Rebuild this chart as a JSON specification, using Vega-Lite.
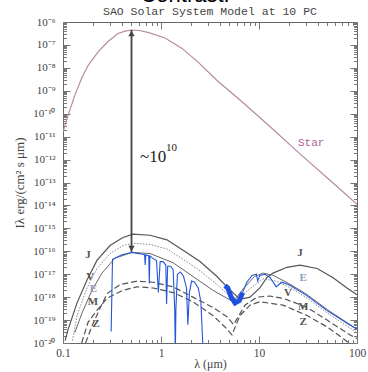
{
  "$schema": "https://vega.github.io/schema/vega-lite/v6.json",
  "width": 294,
  "height": 321,
  "autosize": {"type": "none"},
  "padding": {"left": 63, "top": 22, "right": 11, "bottom": 29},
  "background": "white",
  "config": {
    "view": {"stroke": "#666", "strokeWidth": 1},
    "axis": {"domain": false, "grid": false, "tickColor": "#777", "tickWidth": 1}
  },
  "datasets": {
    "curves": [
      {"s": "Star", "lam": 0.1, "I": 1.58e-11},
      {"s": "Star", "lam": 0.113, "I": 8.91e-11},
      {"s": "Star", "lam": 0.132, "I": 6.31e-10},
      {"s": "Star", "lam": 0.155, "I": 3.55e-9},
      {"s": "Star", "lam": 0.18, "I": 1.26e-8},
      {"s": "Star", "lam": 0.228, "I": 5.01e-8},
      {"s": "Star", "lam": 0.288, "I": 1.41e-7},
      {"s": "Star", "lam": 0.364, "I": 3.16e-7},
      {"s": "Star", "lam": 0.43, "I": 3.98e-7},
      {"s": "Star", "lam": 0.506, "I": 4.47e-7},
      {"s": "Star", "lam": 0.6, "I": 4.27e-7},
      {"s": "Star", "lam": 0.736, "I": 3.55e-7},
      {"s": "Star", "lam": 1.1, "I": 2.0e-7},
      {"s": "Star", "lam": 1.64, "I": 7.08e-8},
      {"s": "Star", "lam": 2.39, "I": 1.78e-8},
      {"s": "Star", "lam": 3.73, "I": 2.82e-9},
      {"s": "Star", "lam": 6.4, "I": 3.98e-10},
      {"s": "Star", "lam": 12.1, "I": 3.55e-11},
      {"s": "Star", "lam": 26.2, "I": 1.78e-12},
      {"s": "Star", "lam": 53, "I": 1.26e-13},
      {"s": "Star", "lam": 100, "I": 1.12e-14},

      {"s": "J", "lam": 0.105, "I": 1.26e-20},
      {"s": "J", "lam": 0.112, "I": 3.55e-20},
      {"s": "J", "lam": 0.139, "I": 5.62e-19},
      {"s": "J", "lam": 0.176, "I": 5.62e-18},
      {"s": "J", "lam": 0.222, "I": 3.98e-17},
      {"s": "J", "lam": 0.302, "I": 1.78e-16},
      {"s": "J", "lam": 0.409, "I": 3.98e-16},
      {"s": "J", "lam": 0.518, "I": 5.62e-16},
      {"s": "J", "lam": 0.773, "I": 5.01e-16},
      {"s": "J", "lam": 1.15, "I": 3.16e-16},
      {"s": "J", "lam": 1.68, "I": 1.12e-16},
      {"s": "J", "lam": 2.5, "I": 3.55e-17},
      {"s": "J", "lam": 3.73, "I": 7.94e-18},
      {"s": "J", "lam": 4.71, "I": 2.82e-18},
      {"s": "J", "lam": 6.4, "I": 7.94e-19},
      {"s": "J", "lam": 8.09, "I": 1.0e-18},
      {"s": "J", "lam": 10.2, "I": 2.51e-18},
      {"s": "J", "lam": 12.0, "I": 7.08e-18},
      {"s": "J", "lam": 13.9, "I": 1.12e-17},
      {"s": "J", "lam": 19.3, "I": 2.0e-17},
      {"s": "J", "lam": 26.2, "I": 2.51e-17},
      {"s": "J", "lam": 39.2, "I": 1.78e-17},
      {"s": "J", "lam": 57, "I": 7.08e-18},
      {"s": "J", "lam": 79, "I": 2.51e-18},
      {"s": "J", "lam": 100, "I": 1.26e-18},

      {"s": "V", "lam": 0.125, "I": 1.26e-20},
      {"s": "V", "lam": 0.139, "I": 1.58e-19},
      {"s": "V", "lam": 0.176, "I": 2.51e-18},
      {"s": "V", "lam": 0.222, "I": 1.78e-17},
      {"s": "V", "lam": 0.302, "I": 7.94e-17},
      {"s": "V", "lam": 0.409, "I": 1.78e-16},
      {"s": "V", "lam": 0.518, "I": 2.24e-16},
      {"s": "V", "lam": 0.773, "I": 2.0e-16},
      {"s": "V", "lam": 1.15, "I": 1.26e-16},
      {"s": "V", "lam": 1.68, "I": 4.47e-17},
      {"s": "V", "lam": 2.5, "I": 1.41e-17},
      {"s": "V", "lam": 3.73, "I": 3.55e-18},
      {"s": "V", "lam": 4.71, "I": 1.41e-18},
      {"s": "V", "lam": 6.0, "I": 7.94e-19},
      {"s": "V", "lam": 8.0, "I": 2.24e-18},
      {"s": "V", "lam": 11, "I": 6.31e-18},
      {"s": "V", "lam": 15, "I": 5.01e-18},
      {"s": "V", "lam": 20, "I": 2.82e-18},
      {"s": "V", "lam": 30, "I": 1.0e-18},
      {"s": "V", "lam": 50, "I": 2.0e-19},
      {"s": "V", "lam": 100, "I": 2.82e-20},

      {"s": "E", "lam": 0.132, "I": 2.82e-20},
      {"s": "E", "lam": 0.156, "I": 2.0e-19},
      {"s": "E", "lam": 0.198, "I": 2.0e-18},
      {"s": "E", "lam": 0.25, "I": 1.12e-17},
      {"s": "E", "lam": 0.339, "I": 5.01e-17},
      {"s": "E", "lam": 0.506, "I": 8.91e-17},
      {"s": "E", "lam": 0.773, "I": 8.0e-17},
      {"s": "E", "lam": 1.33, "I": 3.16e-17},
      {"s": "E", "lam": 2.12, "I": 7.94e-18},
      {"s": "E", "lam": 3.38, "I": 2.0e-18},
      {"s": "E", "lam": 4.71, "I": 8.91e-19},
      {"s": "E", "lam": 5.5, "I": 6.31e-19},
      {"s": "E", "lam": 7.0, "I": 2.51e-18},
      {"s": "E", "lam": 9.0, "I": 7.94e-18},
      {"s": "E", "lam": 11, "I": 1.12e-17},
      {"s": "E", "lam": 14, "I": 8.91e-18},
      {"s": "E", "lam": 20, "I": 3.98e-18},
      {"s": "E", "lam": 30, "I": 1.41e-18},
      {"s": "E", "lam": 50, "I": 2.82e-19},
      {"s": "E", "lam": 100, "I": 3.98e-20},

      {"s": "M", "lam": 0.17, "I": 1.0e-20},
      {"s": "M", "lam": 0.2, "I": 6.31e-20},
      {"s": "M", "lam": 0.238, "I": 3.16e-19},
      {"s": "M", "lam": 0.281, "I": 1.41e-18},
      {"s": "M", "lam": 0.382, "I": 3.55e-18},
      {"s": "M", "lam": 0.57, "I": 5.01e-18},
      {"s": "M", "lam": 0.83, "I": 4.47e-18},
      {"s": "M", "lam": 1.33, "I": 2.82e-18},
      {"s": "M", "lam": 2.12, "I": 1.0e-18},
      {"s": "M", "lam": 3.38, "I": 3.55e-19},
      {"s": "M", "lam": 4.71, "I": 1.41e-19},
      {"s": "M", "lam": 5.5, "I": 6.31e-20},
      {"s": "M", "lam": 7.2, "I": 4.47e-19},
      {"s": "M", "lam": 9.5, "I": 1.0e-18},
      {"s": "M", "lam": 12.9, "I": 1.12e-18},
      {"s": "M", "lam": 17.6, "I": 8.91e-19},
      {"s": "M", "lam": 31, "I": 3.55e-19},
      {"s": "M", "lam": 49.5, "I": 1.0e-19},
      {"s": "M", "lam": 85, "I": 2.24e-20},
      {"s": "M", "lam": 100, "I": 1.58e-20},

      {"s": "Z", "lam": 0.155, "I": 1.0e-20},
      {"s": "Z", "lam": 0.18, "I": 7.94e-20},
      {"s": "Z", "lam": 0.22, "I": 2.51e-19},
      {"s": "Z", "lam": 0.281, "I": 8.91e-19},
      {"s": "Z", "lam": 0.409, "I": 2.0e-18},
      {"s": "Z", "lam": 0.57, "I": 2.82e-18},
      {"s": "Z", "lam": 0.83, "I": 2.51e-18},
      {"s": "Z", "lam": 1.33, "I": 1.58e-18},
      {"s": "Z", "lam": 2.12, "I": 6.31e-19},
      {"s": "Z", "lam": 3.38, "I": 1.58e-19},
      {"s": "Z", "lam": 4.5, "I": 5.01e-20},
      {"s": "Z", "lam": 5.3, "I": 2.24e-20},
      {"s": "Z", "lam": 6.4, "I": 1.58e-19},
      {"s": "Z", "lam": 8.1, "I": 4.47e-19},
      {"s": "Z", "lam": 10.2, "I": 6.31e-19},
      {"s": "Z", "lam": 17.6, "I": 4.47e-19},
      {"s": "Z", "lam": 31, "I": 1.58e-19},
      {"s": "Z", "lam": 49.5, "I": 5.01e-20},
      {"s": "Z", "lam": 72, "I": 1.58e-20},
      {"s": "Z", "lam": 85, "I": 8.91e-21}
    ],
    "blue": [
      {"g": "vis", "i": 1, "lam": 0.31, "I": 3.16e-20},
      {"g": "vis", "i": 2, "lam": 0.32, "I": 4.47e-17},
      {"g": "vis", "i": 3, "lam": 0.4, "I": 7.08e-17},
      {"g": "vis", "i": 4, "lam": 0.5, "I": 8.91e-17},
      {"g": "vis", "i": 5, "lam": 0.6, "I": 7.94e-17},
      {"g": "vis", "i": 6, "lam": 0.68, "I": 7.08e-17},
      {"g": "vis", "i": 7, "lam": 0.69, "I": 2.51e-17},
      {"g": "vis", "i": 8, "lam": 0.7, "I": 7.08e-17},
      {"g": "vis", "i": 9, "lam": 0.75, "I": 6.31e-17},
      {"g": "vis", "i": 10, "lam": 0.76, "I": 3.98e-18},
      {"g": "vis", "i": 11, "lam": 0.77, "I": 6.31e-17},
      {"g": "vis", "i": 12, "lam": 0.82, "I": 5.01e-17},
      {"g": "vis", "i": 13, "lam": 0.9, "I": 3.98e-17},
      {"g": "vis", "i": 14, "lam": 0.94, "I": 1.58e-18},
      {"g": "vis", "i": 15, "lam": 0.98, "I": 3.55e-17},
      {"g": "vis", "i": 16, "lam": 1.05, "I": 3.55e-17},
      {"g": "vis", "i": 17, "lam": 1.12, "I": 2.51e-17},
      {"g": "vis", "i": 18, "lam": 1.14, "I": 5.01e-19},
      {"g": "vis", "i": 19, "lam": 1.17, "I": 2.24e-17},
      {"g": "vis", "i": 20, "lam": 1.25, "I": 2.24e-17},
      {"g": "vis", "i": 21, "lam": 1.33, "I": 1.58e-17},
      {"g": "vis", "i": 22, "lam": 1.38, "I": 3.16e-19},
      {"g": "vis", "i": 23, "lam": 1.4, "I": 3.16e-21},
      {"g": "vis", "i": 24, "lam": 1.42, "I": 3.16e-19},
      {"g": "vis", "i": 25, "lam": 1.47, "I": 1.0e-17},
      {"g": "vis", "i": 26, "lam": 1.58, "I": 1.26e-17},
      {"g": "vis", "i": 27, "lam": 1.7, "I": 7.94e-18},
      {"g": "vis", "i": 28, "lam": 1.82, "I": 2.51e-18},
      {"g": "vis", "i": 29, "lam": 1.88, "I": 6.31e-20},
      {"g": "vis", "i": 30, "lam": 1.95, "I": 1.58e-18},
      {"g": "vis", "i": 31, "lam": 2.05, "I": 5.01e-18},
      {"g": "vis", "i": 32, "lam": 2.2, "I": 4.47e-18},
      {"g": "vis", "i": 33, "lam": 2.4, "I": 2.51e-18},
      {"g": "vis", "i": 34, "lam": 2.55, "I": 6.31e-19},
      {"g": "vis", "i": 35, "lam": 2.7, "I": 3.16e-21},

      {"g": "ir", "i": 1, "lam": 4.5, "I": 3.16e-18},
      {"g": "ir", "i": 2, "lam": 4.8, "I": 2.51e-18},
      {"g": "ir", "i": 3, "lam": 5.2, "I": 1.0e-18},
      {"g": "ir", "i": 4, "lam": 5.7, "I": 5.62e-19},
      {"g": "ir", "i": 5, "lam": 6.3, "I": 7.08e-19},
      {"g": "ir", "i": 6, "lam": 6.8, "I": 1.58e-18},
      {"g": "ir", "i": 7, "lam": 7.5, "I": 4.47e-18},
      {"g": "ir", "i": 8, "lam": 8.5, "I": 8.91e-18},
      {"g": "ir", "i": 9, "lam": 9.4, "I": 1.0e-17},
      {"g": "ir", "i": 10, "lam": 9.7, "I": 5.01e-18},
      {"g": "ir", "i": 11, "lam": 10.2, "I": 8.91e-18},
      {"g": "ir", "i": 12, "lam": 11.5, "I": 1.0e-17},
      {"g": "ir", "i": 13, "lam": 13, "I": 7.08e-18},
      {"g": "ir", "i": 14, "lam": 15, "I": 2.82e-18},
      {"g": "ir", "i": 15, "lam": 17, "I": 4.47e-18},
      {"g": "ir", "i": 16, "lam": 20, "I": 3.55e-18},
      {"g": "ir", "i": 17, "lam": 30, "I": 1.26e-18},
      {"g": "ir", "i": 18, "lam": 50, "I": 2.51e-19},
      {"g": "ir", "i": 19, "lam": 80, "I": 7.08e-20},
      {"g": "ir", "i": 20, "lam": 100, "I": 3.98e-20},

      {"g": "blob", "i": 1, "lam": 4.5, "I": 3.16e-18},
      {"g": "blob", "i": 2, "lam": 4.8, "I": 2.51e-18},
      {"g": "blob", "i": 3, "lam": 5.2, "I": 1.0e-18},
      {"g": "blob", "i": 4, "lam": 5.7, "I": 5.62e-19},
      {"g": "blob", "i": 5, "lam": 6.3, "I": 7.08e-19},
      {"g": "blob", "i": 6, "lam": 6.8, "I": 1.58e-18}
    ],
    "planetLabels": [
      {"t": "J", "lam": 0.18, "I": 6.9e-17},
      {"t": "V", "lam": 0.19, "I": 7.4e-18},
      {"t": "E", "lam": 0.204, "I": 2.2e-18},
      {"t": "M", "lam": 0.202, "I": 6.2e-19},
      {"t": "Z", "lam": 0.217, "I": 6.8e-20},
      {"t": "J", "lam": 26.2, "I": 8.5e-17},
      {"t": "E", "lam": 28.2, "I": 6.9e-18},
      {"t": "V", "lam": 19.8, "I": 1.5e-18},
      {"t": "M", "lam": 28.2, "I": 3.7e-19},
      {"t": "Z", "lam": 28.2, "I": 8.3e-20}
    ],
    "arrow": [{"lam": 0.5, "I": 9.3e-17, "I2": 4.47e-7}],
    "heads": [
      {"dir": "up", "lam": 0.5, "I": 3.16e-7},
      {"dir": "down", "lam": 0.5, "I": 1.32e-16}
    ]
  },
  "resolve": {"axis": {"x": "independent", "y": "independent"}},
  "layer": [
    {
      "data": {"name": "curves"},
      "transform": [{"filter": "datum.s == 'Star'"}],
      "mark": {"type": "line", "color": "#b58ba0", "strokeWidth": 1.2, "clip": true},
      "encoding": {
        "x": {
          "field": "lam", "type": "quantitative",
          "scale": {"type": "log", "domain": [0.1, 100], "nice": false},
          "axis": {
            "orient": "bottom", "values": [0.1, 1, 10, 100],
            "labelExpr": "datum.value < 0.5 ? '0.1' : format(datum.value, 'd')",
            "tickSize": -7, "labelPadding": 11, "labelFlush": false, "labelOverlap": false,
            "labelFont": "Liberation Serif", "labelFontSize": 11.5, "labelColor": "#444",
            "title": "λ (μm)", "titleFont": "Liberation Serif", "titleFontSize": 12,
            "titleFontWeight": "normal", "titleColor": "#444", "titlePadding": 0
          }
        },
        "y": {
          "field": "I", "type": "quantitative",
          "scale": {"type": "log", "domain": [1e-20, 1e-6], "nice": false},
          "axis": {
            "orient": "left",
            "values": [1e-20, 1e-19, 1e-18, 1e-17, 1e-16, 1e-15, 1e-14, 1e-13, 1e-12, 1e-11, 1e-10, 1e-9, 1e-8, 1e-7, 1e-6],
            "labelExpr": "'10⁻' + (floor(round(-log(datum.value)/LN10)/10) > 0 ? substring('⁰¹²³⁴⁵⁶⁷⁸⁹', floor(round(-log(datum.value)/LN10)/10), floor(round(-log(datum.value)/LN10)/10) + 1) : '') + substring('⁰¹²³⁴⁵⁶⁷⁸⁹', round(-log(datum.value)/LN10) % 10, round(-log(datum.value)/LN10) % 10 + 1)",
            "tickSize": -7, "labelPadding": 15, "labelOverlap": false,
            "labelFont": "Liberation Serif", "labelFontSize": 11, "labelColor": "#444",
            "title": "Iλ erg/(cm² s μm)", "titleFont": "Liberation Serif", "titleFontSize": 13,
            "titleFontWeight": "normal", "titleColor": "#444", "titlePadding": 6
          }
        }
      }
    },
    {
      "data": {"name": "curves"},
      "transform": [{"filter": "datum.s == 'J'"}],
      "mark": {"type": "line", "color": "#555", "strokeWidth": 1.2, "clip": true},
      "encoding": {
        "x": {
          "field": "lam", "type": "quantitative",
          "scale": {"type": "log", "domain": [0.1, 100], "nice": false},
          "axis": {
            "orient": "bottom",
            "values": [0.2, 0.3, 0.4, 0.5, 0.6, 0.7, 0.8, 0.9, 2, 3, 4, 5, 6, 7, 8, 9, 20, 30, 40, 50, 60, 70, 80, 90],
            "labels": false, "tickSize": -3.5, "title": null
          }
        },
        "y": {
          "field": "I", "type": "quantitative",
          "scale": {"type": "log", "domain": [1e-20, 1e-6], "nice": false},
          "axis": {
            "orient": "left",
            "values": [2e-20,3e-20,4e-20,5e-20,6e-20,7e-20,8e-20,9e-20,2e-19,3e-19,4e-19,5e-19,6e-19,7e-19,8e-19,9e-19,2e-18,3e-18,4e-18,5e-18,6e-18,7e-18,8e-18,9e-18,2e-17,3e-17,4e-17,5e-17,6e-17,7e-17,8e-17,9e-17,2e-16,3e-16,4e-16,5e-16,6e-16,7e-16,8e-16,9e-16,2e-15,3e-15,4e-15,5e-15,6e-15,7e-15,8e-15,9e-15,2e-14,3e-14,4e-14,5e-14,6e-14,7e-14,8e-14,9e-14,2e-13,3e-13,4e-13,5e-13,6e-13,7e-13,8e-13,9e-13,2e-12,3e-12,4e-12,5e-12,6e-12,7e-12,8e-12,9e-12,2e-11,3e-11,4e-11,5e-11,6e-11,7e-11,8e-11,9e-11,2e-10,3e-10,4e-10,5e-10,6e-10,7e-10,8e-10,9e-10,2e-9,3e-9,4e-9,5e-9,6e-9,7e-9,8e-9,9e-9,2e-8,3e-8,4e-8,5e-8,6e-8,7e-8,8e-8,9e-8,2e-7,3e-7,4e-7,5e-7,6e-7,7e-7,8e-7,9e-7],
            "labels": false, "tickSize": -3.5, "title": null
          }
        }
      }
    },
    {
      "data": {"name": "curves"},
      "transform": [{"filter": "datum.s == 'V'"}],
      "mark": {"type": "line", "color": "#888", "strokeWidth": 1, "strokeDash": [1.5, 1.5], "clip": true},
      "encoding": {
        "x": {
          "field": "lam", "type": "quantitative",
          "scale": {"type": "log", "domain": [0.1, 100], "nice": false},
          "axis": {"orient": "top", "values": [0.1, 1, 10, 100], "labels": false, "tickSize": -7, "title": null}
        },
        "y": {
          "field": "I", "type": "quantitative",
          "scale": {"type": "log", "domain": [1e-20, 1e-6], "nice": false},
          "axis": {
            "orient": "right",
            "values": [1e-20, 1e-19, 1e-18, 1e-17, 1e-16, 1e-15, 1e-14, 1e-13, 1e-12, 1e-11, 1e-10, 1e-9, 1e-8, 1e-7, 1e-6],
            "labels": false, "tickSize": -7, "title": null
          }
        }
      }
    },
    {
      "data": {"name": "curves"},
      "transform": [{"filter": "datum.s == 'E'"}],
      "mark": {"type": "line", "color": "#666", "strokeWidth": 1, "clip": true},
      "encoding": {
        "x": {
          "field": "lam", "type": "quantitative",
          "scale": {"type": "log", "domain": [0.1, 100], "nice": false},
          "axis": {
            "orient": "top",
            "values": [0.2, 0.3, 0.4, 0.5, 0.6, 0.7, 0.8, 0.9, 2, 3, 4, 5, 6, 7, 8, 9, 20, 30, 40, 50, 60, 70, 80, 90],
            "labels": false, "tickSize": -3.5, "title": null
          }
        },
        "y": {
          "field": "I", "type": "quantitative",
          "scale": {"type": "log", "domain": [1e-20, 1e-6], "nice": false},
          "axis": {
            "orient": "right",
            "values": [2e-20,3e-20,4e-20,5e-20,6e-20,7e-20,8e-20,9e-20,2e-19,3e-19,4e-19,5e-19,6e-19,7e-19,8e-19,9e-19,2e-18,3e-18,4e-18,5e-18,6e-18,7e-18,8e-18,9e-18,2e-17,3e-17,4e-17,5e-17,6e-17,7e-17,8e-17,9e-17,2e-16,3e-16,4e-16,5e-16,6e-16,7e-16,8e-16,9e-16,2e-15,3e-15,4e-15,5e-15,6e-15,7e-15,8e-15,9e-15,2e-14,3e-14,4e-14,5e-14,6e-14,7e-14,8e-14,9e-14,2e-13,3e-13,4e-13,5e-13,6e-13,7e-13,8e-13,9e-13,2e-12,3e-12,4e-12,5e-12,6e-12,7e-12,8e-12,9e-12,2e-11,3e-11,4e-11,5e-11,6e-11,7e-11,8e-11,9e-11,2e-10,3e-10,4e-10,5e-10,6e-10,7e-10,8e-10,9e-10,2e-9,3e-9,4e-9,5e-9,6e-9,7e-9,8e-9,9e-9,2e-8,3e-8,4e-8,5e-8,6e-8,7e-8,8e-8,9e-8,2e-7,3e-7,4e-7,5e-7,6e-7,7e-7,8e-7,9e-7],
            "labels": false, "tickSize": -3.5, "title": null
          }
        }
      }
    },
    {
      "data": {"name": "curves"},
      "transform": [{"filter": "datum.s == 'M' || datum.s == 'Z'"}],
      "mark": {"type": "line", "color": "#555", "strokeWidth": 1.2, "strokeDash": [6, 3], "clip": true},
      "encoding": {
        "x": {"field": "lam", "type": "quantitative", "scale": {"type": "log", "domain": [0.1, 100], "nice": false}, "axis": null},
        "y": {"field": "I", "type": "quantitative", "scale": {"type": "log", "domain": [1e-20, 1e-6], "nice": false}, "axis": null},
        "detail": {"field": "s"}
      }
    },
    {
      "data": {"name": "blue"},
      "transform": [{"filter": "datum.g != 'blob'"}],
      "mark": {"type": "line", "color": "#2456d8", "strokeWidth": 1.1, "clip": true},
      "encoding": {
        "x": {"field": "lam", "type": "quantitative", "scale": {"type": "log", "domain": [0.1, 100], "nice": false}, "axis": null},
        "y": {"field": "I", "type": "quantitative", "scale": {"type": "log", "domain": [1e-20, 1e-6], "nice": false}, "axis": null},
        "detail": {"field": "g"},
        "order": {"field": "i", "type": "quantitative"}
      }
    },
    {
      "data": {"name": "blue"},
      "transform": [{"filter": "datum.g == 'blob'"}],
      "mark": {"type": "line", "color": "#1f4fe0", "strokeWidth": 5, "clip": true},
      "encoding": {
        "x": {"field": "lam", "type": "quantitative", "scale": {"type": "log", "domain": [0.1, 100], "nice": false}, "axis": null},
        "y": {"field": "I", "type": "quantitative", "scale": {"type": "log", "domain": [1e-20, 1e-6], "nice": false}, "axis": null},
        "order": {"field": "i", "type": "quantitative"}
      }
    },
    {
      "data": {"name": "arrow"},
      "mark": {"type": "rule", "color": "#444", "strokeWidth": 1.8},
      "encoding": {
        "x": {"field": "lam", "type": "quantitative", "scale": {"type": "log", "domain": [0.1, 100], "nice": false}, "axis": null},
        "y": {"field": "I", "type": "quantitative", "scale": {"type": "log", "domain": [1e-20, 1e-6], "nice": false}, "axis": null},
        "y2": {"field": "I2"}
      }
    },
    {
      "data": {"name": "heads"},
      "mark": {"type": "point", "filled": true, "color": "#444", "size": 40, "opacity": 1},
      "encoding": {
        "x": {"field": "lam", "type": "quantitative", "scale": {"type": "log", "domain": [0.1, 100], "nice": false}, "axis": null},
        "y": {"field": "I", "type": "quantitative", "scale": {"type": "log", "domain": [1e-20, 1e-6], "nice": false}, "axis": null},
        "shape": {"field": "dir", "type": "nominal", "scale": {"domain": ["up", "down"], "range": ["triangle-up", "triangle-down"]}, "legend": null}
      }
    },
    {
      "data": {"name": "planetLabels"},
      "mark": {"type": "text", "font": "Liberation Serif", "fontSize": 11, "fontWeight": "bold", "align": "center", "baseline": "middle"},
      "encoding": {
        "x": {"field": "lam", "type": "quantitative", "scale": {"type": "log", "domain": [0.1, 100], "nice": false}, "axis": null},
        "y": {"field": "I", "type": "quantitative", "scale": {"type": "log", "domain": [1e-20, 1e-6], "nice": false}, "axis": null},
        "text": {"field": "t"},
        "color": {"condition": {"test": "datum.t == 'E'", "value": "#8c9cba"}, "value": "#555"}
      }
    },
    {
      "data": {"values": [{"t": "Star", "lam": 25.0, "I": 5.25e-12}]},
      "mark": {"type": "text", "font": "Liberation Mono", "fontSize": 11, "align": "left", "baseline": "middle", "color": "#b0609a"},
      "encoding": {
        "x": {"field": "lam", "type": "quantitative", "scale": {"type": "log", "domain": [0.1, 100], "nice": false}, "axis": null},
        "y": {"field": "I", "type": "quantitative", "scale": {"type": "log", "domain": [1e-20, 1e-6], "nice": false}, "axis": null},
        "text": {"field": "t"}
      }
    },
    {
      "data": {"values": [{"t": "~10", "lam": 0.611, "I": 1.29e-12}]},
      "mark": {"type": "text", "font": "Liberation Serif", "fontSize": 17, "align": "left", "baseline": "middle", "color": "#222"},
      "encoding": {
        "x": {"field": "lam", "type": "quantitative", "scale": {"type": "log", "domain": [0.1, 100], "nice": false}, "axis": null},
        "y": {"field": "I", "type": "quantitative", "scale": {"type": "log", "domain": [1e-20, 1e-6], "nice": false}, "axis": null},
        "text": {"field": "t"}
      }
    },
    {
      "data": {"values": [{"t": "10", "lam": 1.125, "I": 3.2e-12}]},
      "mark": {"type": "text", "font": "Liberation Serif", "fontSize": 11, "align": "left", "baseline": "middle", "color": "#222"},
      "encoding": {
        "x": {"field": "lam", "type": "quantitative", "scale": {"type": "log", "domain": [0.1, 100], "nice": false}, "axis": null},
        "y": {"field": "I", "type": "quantitative", "scale": {"type": "log", "domain": [1e-20, 1e-6], "nice": false}, "axis": null},
        "text": {"field": "t"}
      }
    },
    {
      "data": {"values": [{"t": "SAO Solar System Model at 10 PC", "lam": 3.16, "I": 2.73e-6}]},
      "mark": {"type": "text", "font": "Liberation Mono", "fontSize": 11.5, "align": "center", "baseline": "middle", "color": "#444"},
      "encoding": {
        "x": {"field": "lam", "type": "quantitative", "scale": {"type": "log", "domain": [0.1, 100], "nice": false}, "axis": null},
        "y": {"field": "I", "type": "quantitative", "scale": {"type": "log", "domain": [1e-20, 1e-6], "nice": false}, "axis": null},
        "text": {"field": "t"}
      }
    },
    {
      "data": {"values": [{"t": "Contrast:", "lam": 1.76, "I": 7.2e-6}]},
      "mark": {"type": "text", "font": "Liberation Sans", "fontSize": 22, "align": "center", "baseline": "alphabetic", "color": "#000"},
      "encoding": {
        "x": {"field": "lam", "type": "quantitative", "scale": {"type": "log", "domain": [0.1, 100], "nice": false}, "axis": null},
        "y": {"field": "I", "type": "quantitative", "scale": {"type": "log", "domain": [1e-20, 1e-6], "nice": false}, "axis": null},
        "text": {"field": "t"}
      }
    }
  ]
}
